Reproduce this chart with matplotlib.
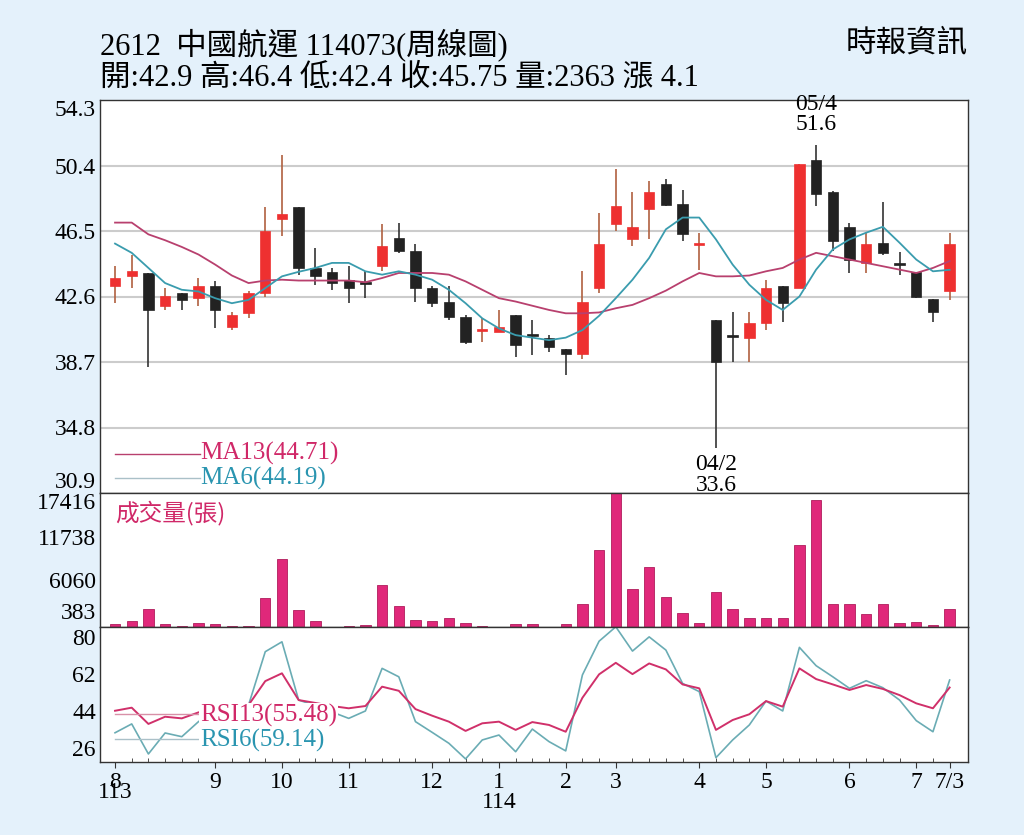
import numpy as np
import matplotlib
matplotlib.use("Agg")
import matplotlib.pyplot as plt

FONT = ['Liberation Serif', 'Noto Sans CJK TC']
plt.rcParams['font.family'] = FONT

# weekly OHLC, 2024/08 .. 2025/07/03
opens = [43.25, 43.8, 44.0, 42.05, 42.8, 42.5, 43.2, 40.8, 41.6, 42.8, 47.2, 47.9, 44.3, 44.07, 43.6, 43.4,
         44.4, 46.1, 45.3, 43.1, 42.3, 41.4, 40.55, 40.5, 41.5, 40.3, 40.15, 39.45, 39.15, 43.1, 46.9,
         46.05, 47.8, 49.3, 48.1, 45.65, 41.2, 40.25, 40.1, 41.0, 43.25, 43.1, 50.7, 48.8, 46.75, 44.6,
         45.8, 44.5, 44.07, 42.45, 42.9]
closes = [43.7, 44.1, 41.8, 42.6, 42.4, 43.2, 41.8, 41.5, 42.8, 46.5, 47.5, 44.3, 43.85, 43.4, 43.1, 43.35,
          45.6, 45.3, 43.1, 42.2, 41.35, 39.9, 40.65, 40.8, 39.7, 40.25, 39.6, 39.15, 42.3, 45.7, 48.0,
          46.75, 48.8, 48.05, 46.3, 45.75, 38.7, 40.2, 41.0, 43.1, 42.2, 50.5, 48.7, 45.9, 44.8, 45.7,
          45.2, 44.45, 42.6, 41.7, 45.75]
highs = [44.4, 45.1, 44.0, 43.1, 42.8, 43.7, 43.5, 41.7, 42.9, 47.9, 51.0, 47.9, 45.5, 44.3, 44.4, 44.1,
         46.9, 47.0, 45.7, 43.2, 43.2, 41.5, 41.3, 41.8, 41.5, 41.2, 40.3, 39.5, 44.1, 47.6, 50.2,
         48.8, 49.5, 49.6, 48.95, 46.4, 41.2, 41.7, 41.7, 43.6, 43.25, 50.5, 51.6, 48.9, 47.0, 46.4,
         48.2, 45.25, 44.07, 42.45, 46.4]
lows = [42.2, 43.1, 38.4, 41.8, 41.8, 42.05, 40.7, 40.6, 41.3, 42.6, 46.2, 43.9, 43.3, 43.0, 42.2, 42.5,
        44.1, 45.2, 42.3, 42.0, 41.2, 39.8, 39.9, 40.5, 39.0, 39.1, 39.3, 37.9, 38.9, 42.8, 46.5,
        45.6, 46.05, 48.0, 45.9, 44.2, 33.6, 38.7, 38.7, 40.6, 41.1, 43.1, 48.0, 45.3, 44.0, 44.0,
        45.1, 43.9, 42.5, 41.1, 42.4]
ma13 = [47.0, 47.0, 46.3, 45.95, 45.55, 45.1, 44.5, 43.85, 43.4, 43.55, 43.6, 43.55, 43.55, 43.55, 43.55,
        43.45, 43.7, 44.0, 44.0, 44.0, 43.9, 43.5, 43.0, 42.5, 42.3, 42.05, 41.8, 41.6, 41.6, 41.65,
        41.9, 42.1, 42.5, 42.95, 43.5, 44.0, 43.8, 43.8, 43.85, 44.1, 44.3, 44.8, 45.2, 45.0, 44.8,
        44.6, 44.4, 44.2, 44.0, 44.3, 44.71]
ma6 = [45.75, 45.2, 44.3, 43.4, 43.0, 42.9, 42.5, 42.2, 42.4, 43.1, 43.8, 44.07, 44.3, 44.6, 44.6, 44.1,
       43.9, 44.1, 43.9, 43.6, 43.0, 42.2, 41.3, 40.7, 40.3, 40.15, 40.0, 40.15, 40.6, 41.45, 42.5,
       43.6, 44.9, 46.6, 47.3, 47.3, 46.0, 44.5, 43.3, 42.4, 41.8, 42.6, 44.2, 45.4, 46.0, 46.4,
       46.75, 45.8, 44.8, 44.1, 44.19]
volume = [440, 790, 2300, 440, 100, 570, 440, 130, 100, 3750, 8800, 2190, 790, 50, 130, 260, 5420, 2750,
          960, 740, 1220, 570, 170, 50, 440, 440, 30, 350, 2970, 9960, 17416, 4890, 7860, 3840, 1880,
          480, 4590, 2320, 1140, 1220, 1140, 10700, 16500, 2970, 2970, 1660, 2970, 570, 700, 220, 2363]
rsi13 = [44.2, 45.7, 37.8, 41.3, 40.5, 43.4, 45.0, 43.0, 47.0, 58.6, 62.4, 49.4, 48.0, 46.5, 45.4, 46.5,
         55.9, 53.9, 45.0, 41.8, 38.9, 34.4, 38.1, 38.9, 34.9, 38.7, 37.3, 34.0, 50.5, 61.9, 67.5,
         62.0, 67.2, 64.3, 57.0, 55.1, 34.9, 39.7, 42.5, 48.9, 46.2, 64.8, 59.6, 57.0, 54.3, 56.7,
         54.8, 51.8, 47.8, 45.4, 55.48]
rsi6 = [33.5, 37.8, 23.2, 33.4, 31.6, 38.9, 45.0, 40.0, 47.0, 72.9, 77.7, 49.4, 46.7, 43.6, 40.5, 44.1,
        64.8, 60.7, 38.9, 33.7, 28.4, 20.8, 30.0, 32.4, 24.3, 35.3, 29.2, 24.7, 61.6, 78.0, 85.0,
        73.2, 80.1, 73.7, 57.5, 53.5, 21.4, 30.0, 37.3, 48.9, 44.1, 75.0, 66.1, 60.7, 55.1, 58.8,
        55.4, 49.4, 39.4, 34.0, 59.14]
month_idx = [0, 6, 10, 14, 19, 23, 27, 30, 35, 39, 44, 48, 50]
month_lbl = ['8', '9', '10', '11', '12', '1', '2', '3', '4', '5', '6', '7', '7/3']
price_ticks = [54.3, 50.4, 46.5, 42.6, 38.7, 34.8, 30.9]
vol_ticks = [17416, 11738, 6060, 383]
rsi_ticks = [80, 62, 44, 26]

RED = '#ee3030'
BLK = '#222222'
PINK = '#e0287a'
MA13C = '#b8406e'
MA6C = '#3a9cae'
TXT_MA13 = '#d02868'
TXT_MA6 = '#2a95b0'

n = len(opens)
x = np.arange(n)

fig = plt.figure(figsize=(10.24, 8.35), dpi=100)
fig.patch.set_facecolor('#e4f1fb')
L, W = 100 / 1024, 868 / 1024
ax1 = fig.add_axes([L, 1 - 493 / 835, W, 393 / 835])
ax2 = fig.add_axes([L, 1 - 627 / 835, W, 134 / 835])
ax3 = fig.add_axes([L, 1 - 762 / 835, W, 135 / 835])

for ax in (ax1, ax2, ax3):
    ax.set_xlim(-0.9, 51.1)
    ax.set_facecolor('white')
    for s in ax.spines.values():
        s.set_color('#333333')
        s.set_linewidth(1.0)
    ax.tick_params(axis='y', length=0, labelsize=17, pad=3)
    ax.tick_params(axis='x', length=0)
    ax.set_xticks([])

# price panel
ax1.set_ylim(30.9, 54.3)
ax1.set_yticks(price_ticks)
ax1.set_yticklabels([f'{v:.1f}' for v in price_ticks])
tl = ax1.get_yticklabels()
tl[0].set_va('top')
tl[-1].set_va('bottom')
for v in price_ticks[1:-1]:
    ax1.axhline(v, color='#cccccc', lw=1.5, zorder=0)
for i in range(n):
    up = closes[i] >= opens[i]
    c = RED if up else BLK
    wc = '#b06040' if up else '#333333'
    ax1.vlines(x[i], lows[i], highs[i], color=wc, lw=1.2, zorder=2)
    lo, hi = min(opens[i], closes[i]), max(opens[i], closes[i])
    h = max(hi - lo, 0.12)
    ax1.bar(x[i], h, bottom=lo, width=0.62, color=c, edgecolor=c, lw=0.5, zorder=3)
ax1.plot(x, ma13, color=MA13C, lw=1.3, zorder=4)
ax1.plot(x, ma6, color=MA6C, lw=1.3, zorder=4)
ax1.plot([0, 5.1], [33.25, 33.25], color=MA13C, lw=1)
ax1.plot([0, 5.1], [31.8, 31.8], color='#aac0c8', lw=1)
ax1.text(5.1, 33.25, 'MA13(44.71)', color=TXT_MA13, fontsize=18, va='center')
ax1.text(5.1, 31.75, 'MA6(44.19)', color=TXT_MA6, fontsize=18, va='center')
ax1.text(42, 52.2, '05/4\n51.6', ha='center', va='bottom', fontsize=17, linespacing=0.95)
ax1.text(36, 33.2, '04/2\n33.6', ha='center', va='top', fontsize=17, linespacing=0.95,
         clip_on=False)

# volume panel
ax2.set_ylim(0, 17416)
ax2.set_yticks(vol_ticks)
ax2.set_yticklabels([str(v) for v in vol_ticks])
tl = ax2.get_yticklabels()
tl[0].set_va('top')
tl[-1].set_va('bottom')
ax2.bar(x, volume, width=0.62, color=PINK, edgecolor='#b01c5c', lw=0.6)
ax2.text(0, 16500, '成交量(張)', color=TXT_MA13, fontsize=17, va='top',
         family=['Noto Sans CJK TC', 'Liberation Serif'])

# rsi panel
ax3.set_ylim(19.3, 84.9)
ax3.set_yticks(rsi_ticks)
ax3.set_yticklabels([str(v) for v in rsi_ticks])
ax3.plot(x, rsi6, color='#6aacb4', lw=1.2)
ax3.plot(x, rsi13, color='#d0306a', lw=1.4)
ax3.plot([0, 5.1], [42.5, 42.5], color='#d890a8', lw=1)
ax3.plot([0, 5.1], [30.5, 30.5], color='#aac0c8', lw=1)
box = dict(facecolor='white', edgecolor='none', pad=0.5)
ax3.text(5.1, 42.0, 'RSI13(55.48)', color=TXT_MA13, fontsize=18, va='center', bbox=box, zorder=5)
ax3.text(5.1, 30.0, 'RSI6(59.14)', color=TXT_MA6, fontsize=18, va='center', bbox=box, zorder=5)
ax3.tick_params(axis='x', length=4, direction='out', color='#333333', labelsize=17)
ax3.set_xticks(x, minor=True)
ax3.tick_params(axis='x', which='minor', length=3, direction='in', color='#333333')
ax3.set_xticks(month_idx)
ax3.set_xticklabels(month_lbl)
fig.text((100 + (0 + 0.9) / 52 * 868) / 1024, 1 - 792 / 835, '113', ha='center', va='center', fontsize=17)
fig.text((100 + (23 + 0.9) / 52 * 868) / 1024, 1 - 803 / 835, '114', ha='center', va='center', fontsize=17)

fig.text(100 / 1024, 1 - 45 / 835, '2612  中國航運 114073(周線圖)', fontsize=22, va='center')
fig.text(100 / 1024, 1 - 78 / 835, '開:42.9 高:46.4 低:42.4 收:45.75 量:2363 漲 4.1',
         fontsize=22, va='center')
fig.text(968 / 1024, 1 - 45 / 835, '時報資訊', fontsize=22, va='center', ha='right')

fig.savefig('out.png', dpi=100, facecolor=fig.get_facecolor())
